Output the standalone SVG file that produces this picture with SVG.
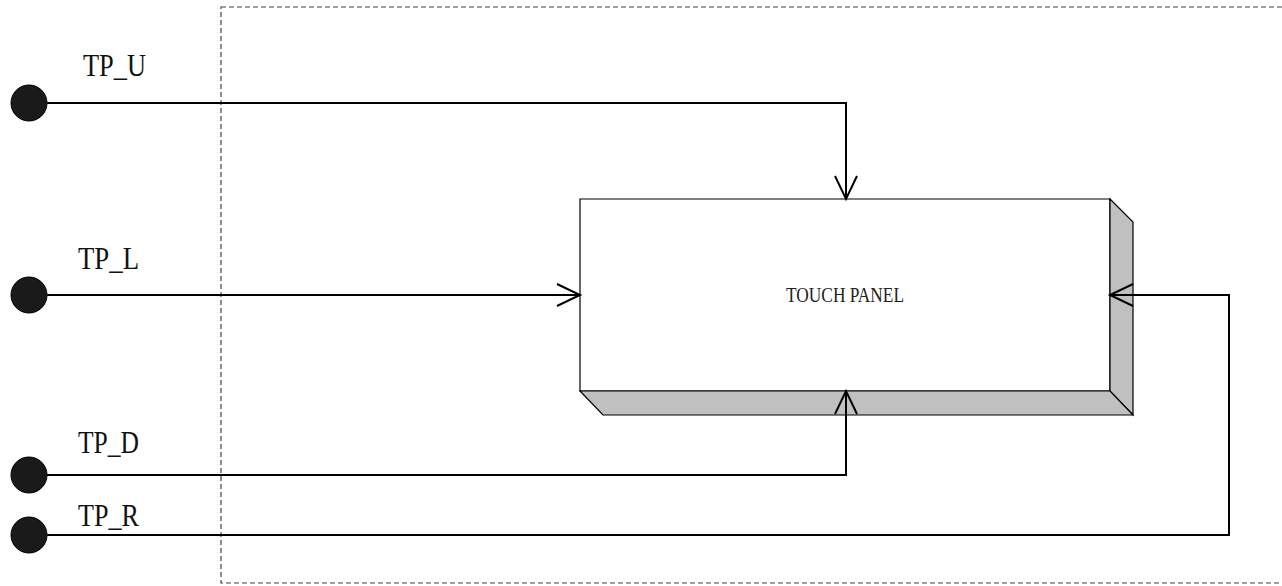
<svg xmlns="http://www.w3.org/2000/svg" width="1282" height="586" viewBox="0 0 1282 586">
<style>
.lbl{font-family:"Liberation Serif","Times New Roman",serif;font-size:32px;fill:#111}
.box-text{font-family:"Liberation Serif","Times New Roman",serif;font-size:22px;fill:#222}
.wire{fill:none;stroke:#000;stroke-width:2}
.pin{fill:#1a1a1a;stroke:#000;stroke-width:1}
.arrow{fill:none;stroke:#000;stroke-width:2}
</style>
<rect width="1282" height="586" fill="#fff"/>
<g id="boundary">
<rect x="221" y="7" width="1257" height="576" fill="none" stroke="#444" stroke-width="1.2" stroke-dasharray="5,3"/>
</g>
<g id="touch-panel">
<polygon points="580,199 1110,199 1110,391 580,391" fill="#fff" stroke="#000" stroke-width="1.2"/>
<polygon points="1110,199 1133,222 1133,415 1110,391" fill="#c0c0c0" stroke="#000" stroke-width="1.2"/>
<polygon points="580,391 1110,391 1133,415 603,415" fill="#c0c0c0" stroke="#000" stroke-width="1.2"/>
<text class="box-text" x="786" y="302" textLength="118" lengthAdjust="spacingAndGlyphs">TOUCH PANEL</text>
</g>
<g id="pin-tp-u">
<circle class="pin" cx="29" cy="103" r="18"/>
<text class="lbl" x="83" y="76" textLength="63" lengthAdjust="spacingAndGlyphs">TP_U</text>
</g>
<g id="pin-tp-l">
<circle class="pin" cx="29" cy="295" r="18"/>
<text class="lbl" x="78" y="269" textLength="61" lengthAdjust="spacingAndGlyphs">TP_L</text>
</g>
<g id="pin-tp-d">
<circle class="pin" cx="29" cy="475" r="18"/>
<text class="lbl" x="78" y="453" textLength="61" lengthAdjust="spacingAndGlyphs">TP_D</text>
</g>
<g id="pin-tp-r">
<circle class="pin" cx="29" cy="535" r="18"/>
<text class="lbl" x="78" y="526" textLength="61" lengthAdjust="spacingAndGlyphs">TP_R</text>
</g>
<g id="connectors">
<polyline class="wire" points="47,103 846,103 846,199"/>
<polyline class="arrow" points="835,176 846,199 857,176"/>
<polyline class="wire" points="47,295 580,295"/>
<polyline class="arrow" points="557,284 580,295 557,306"/>
<polyline class="wire" points="47,475 846,475 846,391"/>
<polyline class="arrow" points="835,414 846,391 857,414"/>
<polyline class="wire" points="47,535 1229,535 1229,295 1110,295"/>
<polyline class="arrow" points="1133,284 1110,295 1133,306"/>
</g>
</svg>
